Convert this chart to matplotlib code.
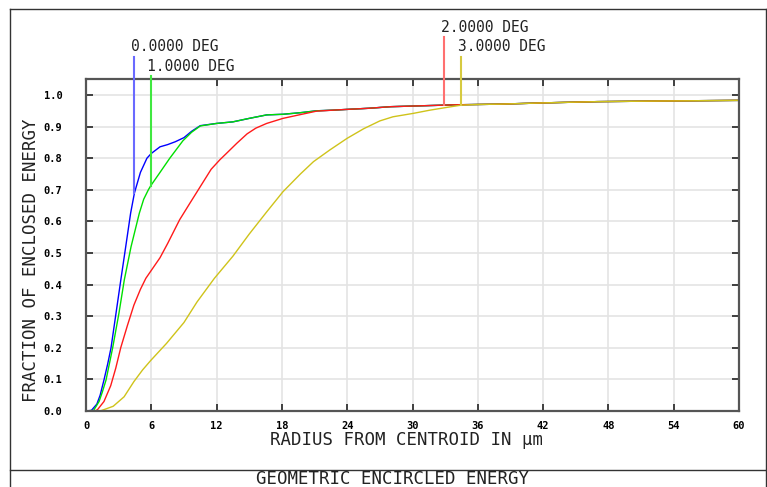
import numpy as np
import matplotlib
matplotlib.use("Agg")
import matplotlib.pyplot as plt
from matplotlib.lines import Line2D

# Encircled energy vs radius (µm) for four field angles
field_labels = ["0.0000 DEG", "1.0000 DEG", "2.0000 DEG", "3.0000 DEG"]
field_colors = ["#0000ff", "#00e000", "#ff1a1a", "#cfc31a"]
marker_colors = ["#6a6aff", "#40e840", "#ff7070", "#d6ca40"]

# shared far tail, where all fields converge
tail_r = [36.0, 38.0, 42.0, 47.0, 53.0, 60.0]
tail_v = [0.970, 0.971, 0.975, 0.979, 0.981, 0.983]

r_0deg = [0.0, 0.5, 1.0, 1.3, 1.65, 2.0, 2.3, 2.76, 3.2, 3.65, 4.1, 4.45, 5.0, 5.6,
          6.0, 6.8, 7.5, 8.2, 9.0, 9.7, 10.5, 12.0, 13.5, 15.0, 16.6, 18.1, 19.7,
          21.2, 22.7, 24.3, 26.0, 28.0, 30.0, 32.0, 34.0] + tail_r
v_0deg = [0.0, 0.002, 0.022, 0.05, 0.098, 0.15, 0.20, 0.31, 0.415, 0.52, 0.626, 0.69,
          0.755, 0.80, 0.815, 0.836, 0.843, 0.852, 0.865, 0.885, 0.903, 0.910, 0.915,
          0.926, 0.937, 0.939, 0.944, 0.950, 0.952, 0.955, 0.958, 0.963, 0.965, 0.967,
          0.969] + tail_v

r_1deg = [0.0, 0.7, 1.2, 1.5, 1.84, 2.45, 3.03, 3.52, 4.14, 4.9, 5.3, 5.73, 5.95,
          6.8, 7.7, 8.9, 9.7, 10.5, 12.0, 13.5, 15.0, 16.6, 18.1, 19.7, 21.2, 22.7,
          24.3, 26.0, 28.0, 30.0, 32.0, 34.0] + tail_r
v_1deg = [0.0, 0.002, 0.03, 0.06, 0.098, 0.20, 0.31, 0.415, 0.52, 0.626, 0.67,
          0.70, 0.713, 0.755, 0.80, 0.855, 0.882, 0.902, 0.910, 0.915, 0.926, 0.937,
          0.939, 0.944, 0.950, 0.952, 0.955, 0.958, 0.963, 0.965, 0.967, 0.969] + tail_v

r_2deg = [0.0, 0.8, 1.05, 1.65, 2.27, 2.73, 3.19, 3.8, 4.4, 5.0, 5.5, 6.2, 6.8, 7.5,
          8.6, 9.5, 10.5, 11.5, 12.3, 12.9, 13.85, 14.8, 15.6, 16.6, 18.1, 19.7, 21.2,
          22.7, 24.3, 26.0, 28.0, 30.0, 32.0, 34.0] + tail_r
v_2deg = [0.0, 0.0, 0.004, 0.03, 0.08, 0.135, 0.20, 0.27, 0.335, 0.385, 0.42, 0.455,
          0.485, 0.53, 0.605, 0.655, 0.71, 0.765, 0.795, 0.815, 0.847, 0.877, 0.895,
          0.910, 0.926, 0.938, 0.949, 0.952, 0.955, 0.958, 0.963, 0.965, 0.967,
          0.969] + tail_v

r_3deg = [0.0, 1.3, 2.5, 3.5, 4.4, 5.2, 5.95, 7.4, 9.0, 10.2, 11.8, 13.5, 15.0, 16.6,
          18.1, 19.7, 20.9, 22.4, 24.0, 25.5, 27.0, 28.2, 30.1, 31.6, 33.2, 34.5] + tail_r
v_3deg = [0.0, 0.0, 0.015, 0.045, 0.093, 0.13, 0.16, 0.214, 0.28, 0.345, 0.42, 0.49,
          0.56, 0.63, 0.694, 0.75, 0.789, 0.826, 0.863, 0.893, 0.918, 0.931, 0.942,
          0.952, 0.961, 0.968] + tail_v

series_r = [r_0deg, r_1deg, r_2deg, r_3deg]
series_v = [v_0deg, v_1deg, v_2deg, v_3deg]

# radius of the reference marker for each field, and heights of marker tops / labels
marker_r = [4.45, 5.95, 32.9, 34.45]
marker_top = [1.120, 1.060, 1.183, 1.120]
label_y = [1.152, 1.089, 1.212, 1.152]

x_ticks = [0, 6, 12, 18, 24, 30, 36, 42, 48, 54, 60]
y_ticks = [0.0, 0.1, 0.2, 0.3, 0.4, 0.5, 0.6, 0.7, 0.8, 0.9, 1.0]

W, H = 767, 487
fig = plt.figure(figsize=(W / 100, H / 100), dpi=100)
fig.patch.set_facecolor("white")

ax = fig.add_axes([86 / W, 1 - 411 / H, 653 / W, 332 / H])
ax.set_xlim(0, 60)
ax.set_ylim(0, 1.0506)

ax.set_xticks(x_ticks)
ax.set_yticks(y_ticks)
ax.set_xticklabels([str(t) for t in x_ticks])
ax.set_yticklabels([f"{t:.1f}" for t in y_ticks])
ax.grid(True, color="#e4e4e4", linewidth=1.2)
ax.set_axisbelow(True)
ax.tick_params(direction="in", length=5, width=1.2, color="#222222",
               top=True, right=True, labelsize=7.5)
ax.tick_params(axis="y", pad=17)
ax.tick_params(axis="x", pad=7)
for lab in ax.get_xticklabels() + ax.get_yticklabels():
    lab.set_family("DejaVu Sans Mono")
    lab.set_weight("bold")
for sp in ax.spines.values():
    sp.set_color("#555555")
    sp.set_linewidth(1.6)

for r, v, c in zip(series_r, series_v, field_colors):
    ax.plot(r, v, color=c, linewidth=1.0, solid_joinstyle="round")

# field markers: vertical line from the curve up to the field label
for r, v, mr, top, ly, lab, mc in zip(series_r, series_v, marker_r, marker_top,
                                      label_y, field_labels, marker_colors):
    base = float(np.interp(mr, r, v))
    ax.plot([mr, mr], [base, top], color=mc, linewidth=1.5, clip_on=False, zorder=3)
    ax.text(mr - 0.3, ly, lab, ha="left", va="center", fontsize=10.5,
            family="DejaVu Sans Mono", color="#222222", clip_on=False)

ax.set_xlabel("RADIUS FROM CENTROID IN μm", family="DejaVu Sans Mono",
              fontsize=12.5, color="#222222")
ax.xaxis.set_label_coords((407 - 86) / 653, -(440 - 411) / 332)
ax.set_ylabel("FRACTION OF ENCLOSED ENERGY", family="DejaVu Sans Mono",
              fontsize=12.5, color="#222222")
ax.yaxis.set_label_coords(-(86 - 31) / 653, (411 - 260) / 332)
ax.xaxis.label.set_va("center")
ax.yaxis.label.set_va("center")

# outer frame and title strip
frame_kw = dict(color="#333333", linewidth=1.0, transform=None)
fig.add_artist(Line2D([9.5, 9.5], [0, H - 8.5], **frame_kw))
fig.add_artist(Line2D([9.5, 765.5], [H - 8.5, H - 8.5], **frame_kw))
fig.add_artist(Line2D([765.5, 765.5], [0, H - 8.5], **frame_kw))
fig.add_artist(Line2D([9.5, 767], [H - 469.5, H - 469.5], **frame_kw))
fig.text(393 / W, 1 - 479 / H, "GEOMETRIC ENCIRCLED ENERGY", ha="center", va="center",
         family="DejaVu Sans Mono", fontsize=12.5, color="#222222")

fig.savefig("out.png", dpi=100)
